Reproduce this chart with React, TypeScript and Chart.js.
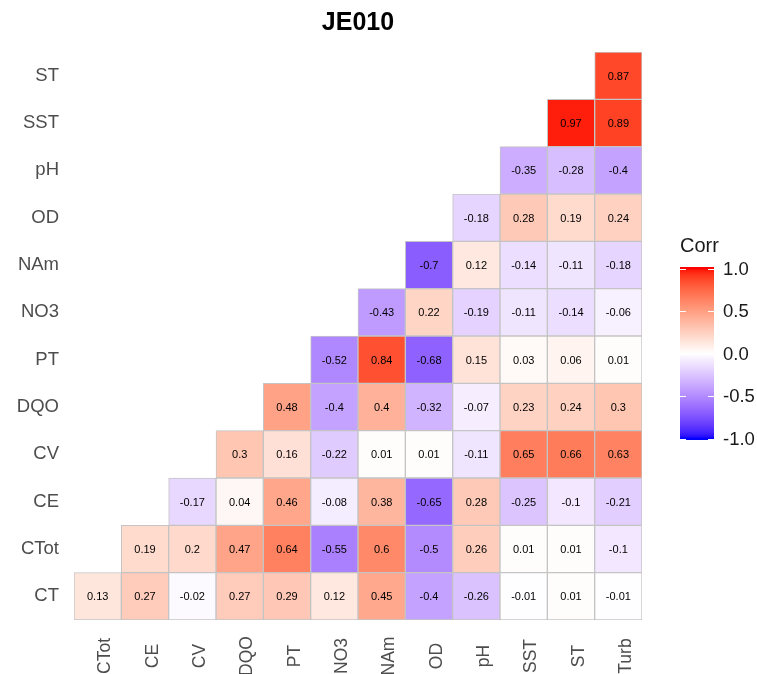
import React, { useEffect, useRef } from "react";
import { Chart, registerables } from "chart.js";

Chart.register(...registerables);

const title = "JE010";
const xLabels = ["CTot", "CE", "CV", "DQO", "PT", "NO3", "NAm", "OD", "pH", "SST", "ST", "Turb"];
const yLabels = ["CT", "CTot", "CE", "CV", "DQO", "PT", "NO3", "NAm", "OD", "pH", "SST", "ST"];

// each row starts at column index equal to its row index
const rowCT = [0.13, 0.27, -0.02, 0.27, 0.29, 0.12, 0.45, -0.4, -0.26, -0.01, 0.01, -0.01];
const rowCTot = [0.19, 0.2, 0.47, 0.64, -0.55, 0.6, -0.5, 0.26, 0.01, 0.01, -0.1];
const rowCE = [-0.17, 0.04, 0.46, -0.08, 0.38, -0.65, 0.28, -0.25, -0.1, -0.21];
const rowCV = [0.3, 0.16, -0.22, 0.01, 0.01, -0.11, 0.65, 0.66, 0.63];
const rowDQO = [0.48, -0.4, 0.4, -0.32, -0.07, 0.23, 0.24, 0.3];
const rowPT = [-0.52, 0.84, -0.68, 0.15, 0.03, 0.06, 0.01];
const rowNO3 = [-0.43, 0.22, -0.19, -0.11, -0.14, -0.06];
const rowNAm = [-0.7, 0.12, -0.14, -0.11, -0.18];
const rowOD = [-0.18, 0.28, 0.19, 0.24];
const rowPH = [-0.35, -0.28, -0.4];
const rowSST = [0.97, 0.89];
const rowST = [0.87];

const rows = [rowCT, rowCTot, rowCE, rowCV, rowDQO, rowPT, rowNO3, rowNAm, rowOD, rowPH, rowSST, rowST];

const legendTicks = [1.0, 0.5, 0.0, -0.5, -1.0];

// ---- colour (Lab interpolation like ggplot's gradient2) ----
function srgbToLin(c: number) {
  c /= 255;
  return c <= 0.04045 ? c / 12.92 : Math.pow((c + 0.055) / 1.055, 2.4);
}
function linToSrgb(c: number) {
  const v = c <= 0.0031308 ? 12.92 * c : 1.055 * Math.pow(c, 1 / 2.4) - 0.055;
  return Math.max(0, Math.min(255, Math.round(v * 255)));
}
const Xn = 0.95047, Yn = 1.0, Zn = 1.08883;
function rgbToLab(r: number, g: number, b: number) {
  const R = srgbToLin(r), G = srgbToLin(g), B = srgbToLin(b);
  const X = R * 0.4124564 + G * 0.3575761 + B * 0.1804375;
  const Y = R * 0.2126729 + G * 0.7151522 + B * 0.072175;
  const Z = R * 0.0193339 + G * 0.119192 + B * 0.9503041;
  const f = (t: number) => (t > 216 / 24389 ? Math.cbrt(t) : (24389 / 27 * t + 16) / 116);
  const fx = f(X / Xn), fy = f(Y / Yn), fz = f(Z / Zn);
  return [116 * fy - 16, 500 * (fx - fy), 200 * (fy - fz)];
}
function labToRgb(L: number, a: number, b: number) {
  const fy = (L + 16) / 116;
  const fx = fy + a / 500;
  const fz = fy - b / 200;
  const finv = (t: number) => (t * t * t > 216 / 24389 ? t * t * t : (116 * t - 16) / (24389 / 27));
  const X = finv(fx) * Xn, Y = finv(fy) * Yn, Z = finv(fz) * Zn;
  const R = X * 3.2404542 - Y * 1.5371385 - Z * 0.4985314;
  const G = -X * 0.969266 + Y * 1.8760108 + Z * 0.041556;
  const B = X * 0.0556434 - Y * 0.2040259 + Z * 1.0572252;
  return `rgb(${linToSrgb(R)},${linToSrgb(G)},${linToSrgb(B)})`;
}
const LAB_RED = rgbToLab(255, 0, 0);
const LAB_WHITE = rgbToLab(255, 255, 255);
const LAB_BLUE = rgbToLab(0, 0, 255);
function corrColor(v: number) {
  const t = Math.min(1, Math.abs(v));
  const end = v >= 0 ? LAB_RED : LAB_BLUE;
  return labToRgb(
    LAB_WHITE[0] + (end[0] - LAB_WHITE[0]) * t,
    LAB_WHITE[1] + (end[1] - LAB_WHITE[1]) * t,
    LAB_WHITE[2] + (end[2] - LAB_WHITE[2]) * t
  );
}

const FONT = "'Liberation Sans', Arial, sans-serif";

const cellValue = (r: number, c: number) => (c >= r ? rows[r][c - r] : null);

const labelPlugin = {
  id: "cellLabels",
  afterDatasetsDraw(chart: any) {
    const ctx = chart.ctx;
    ctx.save();
    ctx.font = `11px ${FONT}`;
    ctx.fillStyle = "#000000";
    ctx.textAlign = "center";
    ctx.textBaseline = "middle";
    chart.data.datasets.forEach((ds: any, r: number) => {
      const meta = chart.getDatasetMeta(r);
      meta.data.forEach((el: any, c: number) => {
        const v = cellValue(r, c);
        if (v === null) return;
        const p = el.getCenterPoint();
        ctx.fillText(String(v), p.x, p.y + 1);
      });
    });
    ctx.restore();
  },
};

const decorPlugin = {
  id: "decor",
  afterDraw(chart: any) {
    const ctx = chart.ctx;
    const ca = chart.chartArea;
    ctx.save();
    // title
    ctx.font = `bold 25px ${FONT}`;
    ctx.fillStyle = "#000000";
    ctx.textAlign = "center";
    ctx.textBaseline = "middle";
    ctx.fillText(title, (ca.left + ca.right) / 2, 23);

    // x axis labels (rotated, centred on 656)
    const xs = chart.scales.x;
    ctx.font = `17.5px ${FONT}`;
    ctx.fillStyle = "#4D4D4D";
    ctx.textAlign = "center";
    ctx.textBaseline = "middle";
    xLabels.forEach((lab, i) => {
      const px = xs.getPixelForValue(i);
      ctx.save();
      ctx.translate(px + 8, 656);
      ctx.rotate(-Math.PI / 2);
      ctx.fillText(lab, 0, 0);
      ctx.restore();
    });

    // legend
    const bx = 680, bw = 34;
    const yOf = (v: number) => 353.5 - v * 85;
    const top = yOf(1) - 1.5, bottom = yOf(-1) + 1.5;
    for (let y = Math.floor(top); y < Math.ceil(bottom); y++) {
      const v = Math.max(-1, Math.min(1, (353.5 - (y + 0.5)) / 85));
      ctx.fillStyle = corrColor(v);
      ctx.fillRect(bx, y, bw, 1);
    }
    ctx.strokeStyle = "#FFFFFF";
    ctx.lineWidth = 1;
    legendTicks.forEach((v) => {
      const y = Math.round(yOf(v)) + 0.5;
      ctx.beginPath();
      ctx.moveTo(bx, y);
      ctx.lineTo(bx + 6, y);
      ctx.moveTo(bx + bw - 6, y);
      ctx.lineTo(bx + bw, y);
      ctx.stroke();
    });
    ctx.fillStyle = "#1A1A1A";
    ctx.font = `18.5px ${FONT}`;
    ctx.textAlign = "left";
    ctx.textBaseline = "middle";
    legendTicks.forEach((v) => {
      ctx.fillText(v.toFixed(1), 723, yOf(v) + 1);
    });
    ctx.font = `20px ${FONT}`;
    ctx.textBaseline = "alphabetic";
    ctx.fillText("Corr", 680, 252);
    ctx.restore();
  },
};

export default function App() {
  const ref = useRef<HTMLCanvasElement | null>(null);
  useEffect(() => {
    if (!ref.current) return;
    const datasets = rows.map((_, r) => ({
      label: yLabels[r],
      data: xLabels.map((__, c) => (c >= r ? [r - 0.5, r + 0.5] : null)),
      backgroundColor: xLabels.map((__, c) => {
        const v = cellValue(r, c);
        return v === null ? "rgba(0,0,0,0)" : corrColor(v);
      }),
      borderColor: "#C4C4C4",
      borderWidth: 1,
      borderSkipped: false,
      barPercentage: 1,
      categoryPercentage: 1,
      grouped: false,
    }));
    const chart = new Chart(ref.current, {
      type: "bar",
      data: { labels: xLabels, datasets: datasets as any },
      options: {
        animation: false,
        responsive: false,
        layout: { padding: { top: 52, right: 115, left: 0, bottom: 0 } },
        plugins: { legend: { display: false }, tooltip: { enabled: false }, title: { display: false } },
        scales: {
          x: {
            type: "category",
            grid: { display: false, drawTicks: false },
            border: { display: false },
            ticks: { display: false },
            afterFit: (s: any) => {
              s.height = 54;
            },
          },
          y: {
            type: "linear",
            min: -0.5,
            max: 11.5,
            grid: { display: false, drawTicks: false },
            border: { display: false },
            afterBuildTicks: (s: any) => {
              s.ticks = yLabels.map((_, i) => ({ value: i }));
            },
            ticks: {
              padding: 15,
              color: "#4D4D4D",
              font: { family: FONT, size: 18.5 },
              callback: (v: any) => yLabels[Number(v)] ?? "",
            },
            afterFit: (s: any) => {
              s.width = 74;
            },
          },
        },
      },
      plugins: [labelPlugin, decorPlugin],
    });
    return () => chart.destroy();
  }, []);
  return (
    <div style={{ position: "absolute", left: 0, top: 0, width: 757, height: 674, background: "#fff" }}>
      <canvas ref={ref} width={757} height={674} />
    </div>
  );
}
